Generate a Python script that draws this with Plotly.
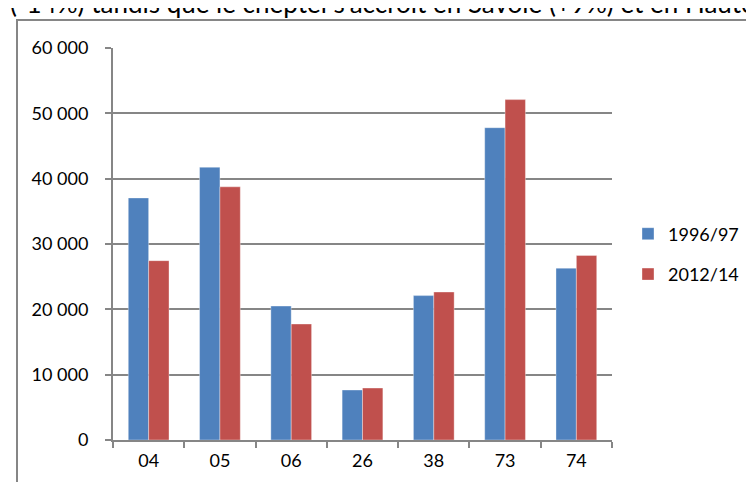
import plotly.graph_objects as go

categories = ["04", "05", "06", "26", "38", "73", "74"]
series_names = ["1996/97", "2012/14"]
values_1996 = [37050, 41750, 20500, 7650, 22100, 47800, 26300]
values_2012 = [27450, 38750, 17750, 7950, 22650, 52100, 28250]
y_ticks = [0, 10000, 20000, 30000, 40000, 50000, 60000]
header_text = "(-14%) tandis que le cheptel s'accroît en Savoie (+9%) et en Haute-Savoie"

W, H = 754, 482
L, R, T, B = 105, 150, 40, 50
pw, ph = W - L - R, H - T - B

def px_x(p):
    return (p - L) / pw

def px_y(p):
    return (H - B - p) / ph

FONT = "Lato"
GRAY = "#868686"

fig = go.Figure()
fig.add_trace(go.Bar(x=categories, y=values_1996, name=series_names[0],
                     marker=dict(color="#4F81BD", line=dict(color="rgba(255,255,255,0.35)", width=1)),
                     legendgroup="a"))
fig.add_trace(go.Bar(x=categories, y=values_2012, name=series_names[1],
                     marker=dict(color="#C0504D", line=dict(color="rgba(255,255,255,0.35)", width=1)),
                     legendgroup="b"))

fig.update_layout(
    width=W, height=H,
    margin=dict(l=L, r=R, t=T, b=B, autoexpand=False),
    paper_bgcolor="white", plot_bgcolor="white",
    barmode="group", bargap=1.5 / 3.5, bargroupgap=0,
    separators=", ",
    font=dict(family=FONT, size=18, color="#000000"),
    legend=dict(x=px_x(620), y=px_y(246), xanchor="left", yanchor="middle",
                traceorder="grouped", tracegroupgap=14,
                font=dict(family=FONT, size=18), bgcolor="rgba(0,0,0,0)"),
    showlegend=True,
)
fig.update_xaxes(type="category", showline=True, linecolor=GRAY, linewidth=2,
                 ticks="outside", ticklen=6, tickcolor=GRAY, tickwidth=2,
                 tickson="boundaries", showgrid=False, ticklabelstandoff=3,
                 tickfont=dict(family=FONT, size=18))
fig.update_yaxes(range=[0, 60000], tickvals=y_ticks, tickformat=",d",
                 showline=True, linecolor=GRAY, linewidth=2,
                 ticks="outside", ticklen=6, tickcolor=GRAY, tickwidth=2,
                 showgrid=True, gridcolor=GRAY, gridwidth=2, zeroline=False,
                 ticklabelstandoff=13, tickfont=dict(family=FONT, size=18))

# chart frame (partially visible)
fig.add_shape(type="rect", xref="paper", yref="paper",
              x0=px_x(9), y0=px_y(600), x1=px_x(900), y1=px_y(12),
              line=dict(color=GRAY, width=2), fillcolor="rgba(0,0,0,0)", layer="below")

# cropped header text from the surrounding document
fig.add_annotation(text=header_text, xref="paper", yref="paper",
                   x=px_x(0), y=px_y(13), xanchor="left", yanchor="bottom",
                   showarrow=False, font=dict(family=FONT, size=26, color="#000000"))

fig.write_html("out.html")
